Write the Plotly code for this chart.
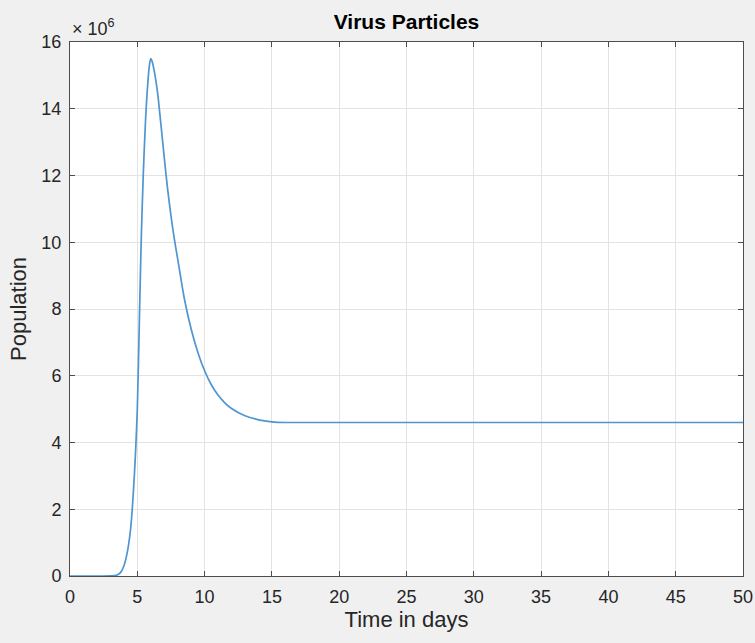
import plotly.graph_objects as go

# Virus particle population over time (values in units of 10^6)
time_days = [0, 1, 2, 3, 3.5, 3.75, 4.0, 4.25, 4.5, 4.75, 5.0, 5.15, 5.3, 5.45,
             5.6, 5.75, 5.9, 6.0, 6.1, 6.25, 6.5, 6.75, 7.0, 7.25, 7.5, 7.75,
             8.0, 8.5, 9.0, 9.5, 10.0, 10.5, 11.0, 11.5, 12.0, 13.0, 14.0,
             15.0, 16.0, 17.0, 18.0, 20.0, 25.0, 30.0, 35.0, 40.0, 45.0, 50.0]
virus_millions = [0, 0, 0, 0.003, 0.03, 0.1, 0.3, 0.7, 1.4, 2.8, 5.0, 7.6,
                  10.2, 12.1, 13.55, 14.6, 15.3, 15.5, 15.42, 15.15, 14.5,
                  13.55, 12.55, 11.6, 10.8, 10.1, 9.5, 8.3, 7.4, 6.7, 6.15,
                  5.73, 5.42, 5.19, 5.02, 4.8, 4.68, 4.62, 4.6, 4.6, 4.6, 4.6,
                  4.6, 4.6, 4.6, 4.6, 4.6, 4.6]

x_ticks = [0, 5, 10, 15, 20, 25, 30, 35, 40, 45, 50]
y_ticks = [0, 2, 4, 6, 8, 10, 12, 14, 16]

FONT = "Liberation Sans, Arial, Helvetica, sans-serif"
TEXT = "#262626"
AXIS = "#4d4d4d"
GRID = "#e3e3e3"

fig = go.Figure()
fig.add_trace(go.Scatter(
    x=time_days,
    y=virus_millions,
    mode="lines",
    line=dict(color="#4f95d2", width=1.7, shape="spline", smoothing=0.8),
    showlegend=False,
))

axis_common = dict(
    showline=True, linecolor=AXIS, linewidth=1, mirror="ticks",
    ticks="inside", ticklen=5, tickcolor=AXIS, tickwidth=1,
    showgrid=True, gridcolor=GRID, gridwidth=1, zeroline=False,
    automargin=False,
    tickfont=dict(family=FONT, size=18, color=TEXT),
)

fig.update_layout(
    width=755, height=643,
    margin=dict(l=70, r=12, t=42, b=67),
    paper_bgcolor="#f0f0f0",
    plot_bgcolor="white",
    title=dict(text="<b>Virus Particles</b>", x=0.5, xref="paper",
               y=1 - 22 / 643, yref="container", yanchor="middle",
               font=dict(family=FONT, size=21, color="black")),
    xaxis=dict(range=[0, 50], tickvals=x_ticks, ticklabelstandoff=4,
               title=dict(text="Time in days", standoff=4,
                          font=dict(family=FONT, size=22, color=TEXT)),
               **axis_common),
    yaxis=dict(range=[0, 16], tickvals=y_ticks, ticklabelstandoff=4,
               title=dict(text="Population", standoff=8,
                          font=dict(family=FONT, size=22, color=TEXT)),
               **axis_common),
    annotations=[dict(
        text="× 10<sup>6</sup>", xref="paper", yref="paper", x=0, y=1,
        xanchor="left", yanchor="bottom", yshift=1, showarrow=False,
        font=dict(family=FONT, size=18, color=TEXT),
    )],
)

fig.write_html("out.html")
